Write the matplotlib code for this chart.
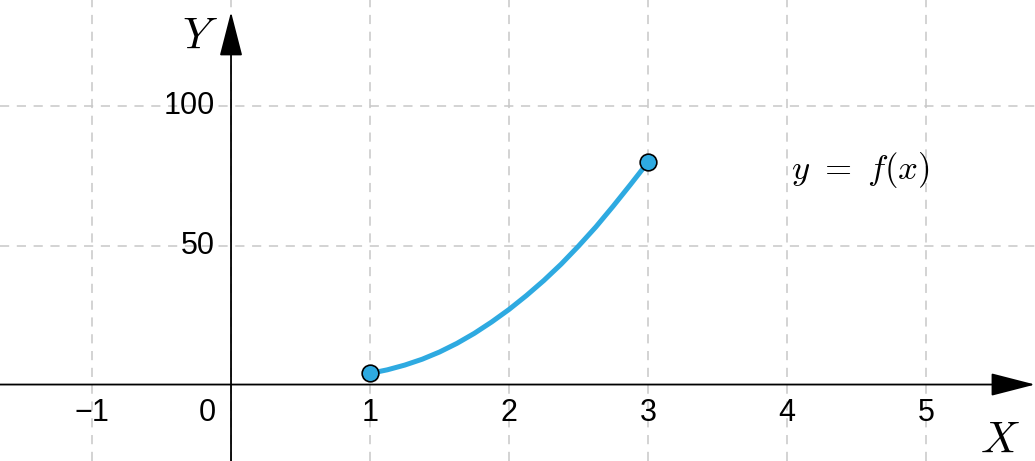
import numpy as np
import matplotlib.pyplot as plt

plt.rcParams['mathtext.fontset'] = 'cm'

# curve values
curve_x = [1.0, 1.125, 1.25, 1.375, 1.5, 1.625, 1.75, 1.875, 2.0,
           2.125, 2.25, 2.375, 2.5, 2.625, 2.75, 2.875, 3.0]
curve_y = [4.0, 5.3, 7.0, 9.1, 11.7, 14.8, 18.4, 22.5, 27.0,
           32.0, 37.4, 43.3, 49.8, 56.7, 64.2, 72.0, 80.0]

x_ticks = [-1, 1, 2, 3, 4, 5]
x_tick_labels = ['\u22121', '1', '2', '3', '4', '5']
y_ticks = [50, 100]
y_tick_labels = ['50', '100']
x_grid = [-1, 0, 1, 2, 3, 4, 5]
y_grid = [50, 100]

blue = '#2eaae1'
grid_col = '#c8c8c8'
tick_font = 'Liberation Sans'

fig = plt.figure(figsize=(10.35, 4.61), dpi=100)
ax = fig.add_axes([0, 0, 1, 1])
ax.set_xlim(-1.662, 5.784)
ax.set_ylim(-27.5, 138.3)
ax.axis('off')

# dashed grid
for gx in x_grid:
    ax.axvline(gx, color=grid_col, lw=1.1, ls=(0, (6, 5)), zorder=0)
for gy in y_grid:
    ax.axhline(gy, color=grid_col, lw=1.1, ls=(0, (6, 5)), zorder=0)

# axes with arrows
arrow = dict(arrowstyle='-|>,head_length=1.4,head_width=0.36',
             color='black', lw=1.3, mutation_scale=20, shrinkA=0, shrinkB=0)
ax.annotate('', xy=(5.784, 0), xytext=(-1.662, 0), arrowprops=arrow, zorder=2)
ax.annotate('', xy=(0, 134.0), xytext=(0, -27.5), arrowprops=arrow, zorder=2)

# tick labels
for t, lab in zip(x_ticks, x_tick_labels):
    ax.text(t, -10.3, lab, fontsize=22, family=tick_font,
            ha='center', va='center')
ax.text(-0.17, -10.3, '0', fontsize=22, family=tick_font,
        ha='center', va='center')
for t, lab in zip(y_ticks, y_tick_labels):
    ax.text(-0.115, t, lab, fontsize=22, family=tick_font,
            ha='right', va='center')

# axis names and function label
ax.text(-0.223, 125.2, '$Y$', fontsize=32, ha='center', va='center')
ax.text(5.53, -20.0, '$X$', fontsize=32, ha='center', va='center')
ax.text(4.525, 77.0, r'$y\ =\ f(x)$', fontsize=25, ha='center', va='center')

# the curve and its end points
ax.plot(curve_x, curve_y, color=blue, lw=3.6, solid_capstyle='round', zorder=3)
ax.plot([curve_x[0], curve_x[-1]], [curve_y[0], curve_y[-1]], 'o',
        ms=12, mfc=blue, mec='black', mew=1.2, zorder=4)

fig.savefig('out.png', dpi=100)
